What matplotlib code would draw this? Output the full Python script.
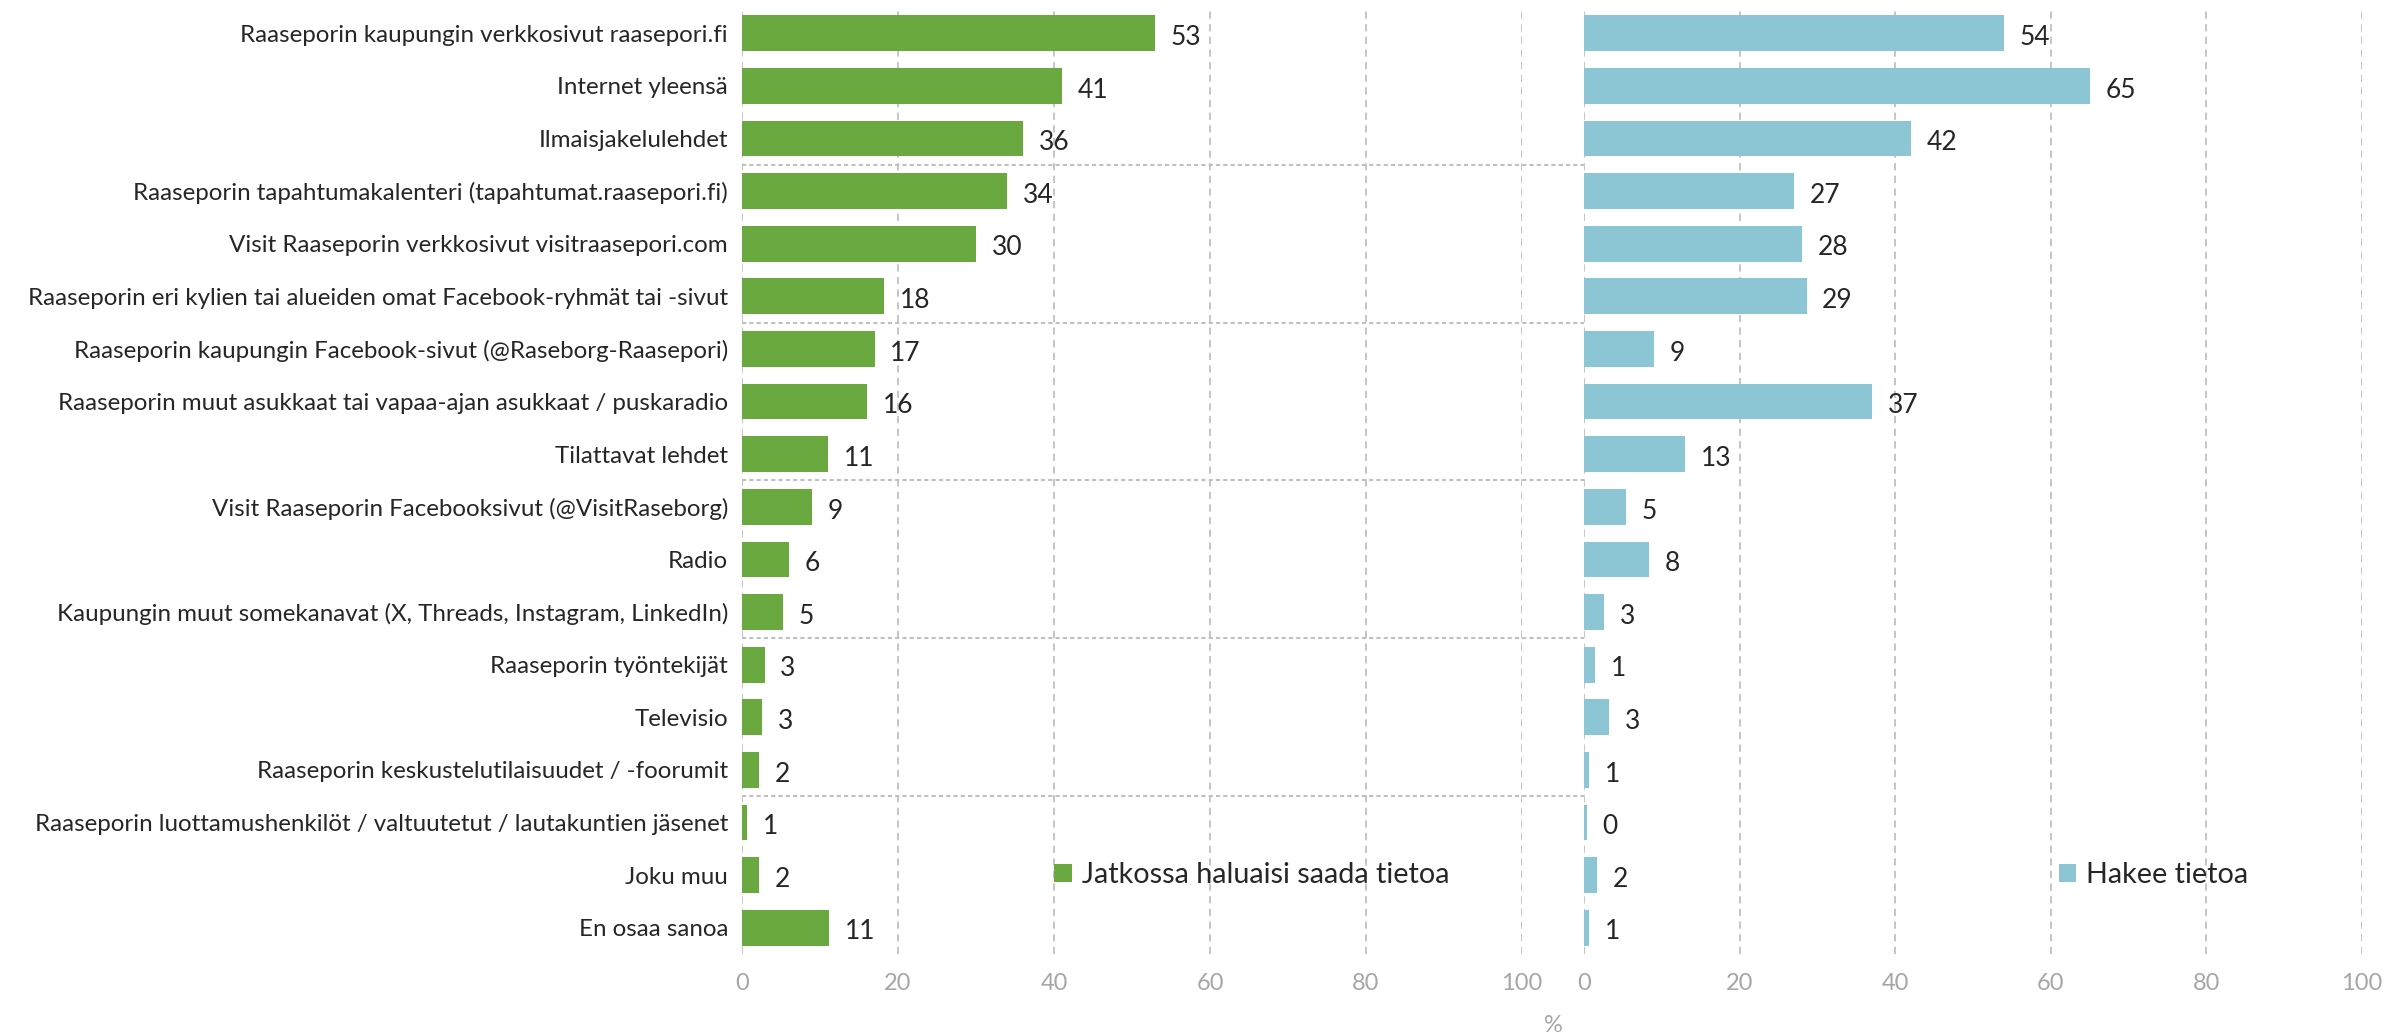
import matplotlib
matplotlib.use("Agg")
import matplotlib.pyplot as plt
from matplotlib.transforms import blended_transform_factory
import numpy as np

plt.rcParams['font.family'] = ['Lato', 'DejaVu Sans']

kategoriat = [
    "Raaseporin kaupungin verkkosivut raasepori.fi",
    "Internet yleensä",
    "Ilmaisjakelulehdet",
    "Raaseporin tapahtumakalenteri (tapahtumat.raasepori.fi)",
    "Visit Raaseporin verkkosivut visitraasepori.com",
    "Raaseporin eri kylien tai alueiden omat Facebook-ryhmät tai -sivut",
    "Raaseporin kaupungin Facebook-sivut (@Raseborg-Raasepori)",
    "Raaseporin muut asukkaat tai vapaa-ajan asukkaat / puskaradio",
    "Tilattavat lehdet",
    "Visit Raaseporin Facebooksivut (@VisitRaseborg)",
    "Radio",
    "Kaupungin muut somekanavat (X, Threads, Instagram, LinkedIn)",
    "Raaseporin työntekijät",
    "Televisio",
    "Raaseporin keskustelutilaisuudet / -foorumit",
    "Raaseporin luottamushenkilöt / valtuutetut / lautakuntien jäsenet",
    "Joku muu",
    "En osaa sanoa",
]

# Jatkossa haluaisi saada tietoa (%)
jatkossa = [53.0, 41.0, 36.0, 34.0, 30.0, 18.2, 17.0, 16.0, 11.0, 9.0,
            6.0, 5.2, 2.9, 2.6, 2.2, 0.7, 2.2, 11.2]
# Hakee tietoa (%)
hakee = [54.0, 65.0, 42.0, 27.0, 28.0, 28.6, 9.0, 37.0, 13.0, 5.4,
         8.4, 2.6, 1.4, 3.2, 0.7, 0.4, 1.7, 0.7]

sarjat = ["Jatkossa haluaisi saada tietoa", "Hakee tietoa"]
varit = ["#6aa840", "#8cc5d3"]
xtiks = [0, 20, 40, 60, 80, 100]
ryhman_koko = 3

W, H = 2392, 1036
fig = plt.figure(figsize=(W / 100, H / 100), dpi=100)

ala = 1 - 954 / H
yla = 1 - 7 / H
ax1 = fig.add_axes([742 / W, ala, (1522 - 742) / W, yla - ala])
ax2 = fig.add_axes([1584 / W, ala, (2362 - 1584) / W, yla - ala])

y = np.arange(len(kategoriat))
tekstivari = "#262626"
grid_vari = "#c0c0c0"

for ax, arvot, vari, nimi in zip([ax1, ax2], [jatkossa, hakee], varit, sarjat):
    palkit = ax.barh(y, arvot, height=0.68, color=vari, label=nimi, zorder=3)
    for p, v in zip(palkit, arvot):
        ax.text(p.get_width() + 2.0, p.get_y() + p.get_height() / 2 + 0.08,
                "%.0f" % v, va="center", ha="left", fontsize=19,
                color=tekstivari, zorder=4)
    ax.set_xlim(0, 100)
    ax.set_ylim(len(kategoriat) - 0.5, -0.5)
    ax.set_xticks(xtiks)
    ax.set_xticklabels([str(t) for t in xtiks], color="#a6a6a6", fontsize=17)
    ax.tick_params(axis="x", length=0, pad=14)
    ax.tick_params(axis="y", length=0)
    for s in ax.spines.values():
        s.set_visible(False)
    for t in xtiks:
        ax.axvline(t, color=grid_vari, lw=1.3, ls=(0, (4, 3)), zorder=1)
    ax.legend(loc="center left", frameon=False, fontsize=20.7,
              bbox_to_anchor=(0.40 if ax is ax1 else 0.61, 1 - 16.5 / 18),
              borderaxespad=0, borderpad=0, handlelength=0.62, handleheight=0.62,
              handletextpad=0.35, labelcolor=tekstivari)

ax1.set_yticks(y)
ax1.set_yticklabels(kategoriat, fontsize=17.4, color=tekstivari)
ax1.tick_params(axis="y", pad=10)
ax2.set_yticks([])

# ryhmien erotinviivat molempien paneelien yli
trans = blended_transform_factory(fig.transFigure, ax1.transData)
x0 = ax1.get_position().x0
x1 = ax2.get_position().x1
for r in range(ryhman_koko, len(kategoriat), ryhman_koko):
    ax1.plot([x0, x1], [r - 0.5, r - 0.5], transform=trans, color=grid_vari,
             lw=1.5, ls=(0, (2, 1.5)), clip_on=False, zorder=2)

fig.text((1522 + 1584) / 2 / W, 1 - 1026 / H, "%", ha="center", va="center",
         fontsize=17, color="#a6a6a6")

fig.savefig("out.png", dpi=100)
